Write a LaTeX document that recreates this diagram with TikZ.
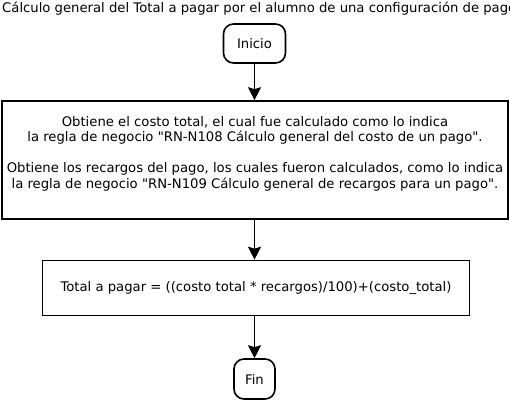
\documentclass[tikz,border=0pt]{standalone}
\usepackage{fontspec}
\setmainfont{DejaVu Sans}[Ligatures=TeXOff]
\usepackage{tikz}
\usetikzlibrary{positioning, arrows.meta}

\begin{document}
\begin{tikzpicture}[
  x=1pt, y=-1pt,
  >=Stealth,
  every node/.style={font=\fontsize{13.2}{15.5}\selectfont},
  terminal/.style={draw, line width=1.6pt, rounded corners=10pt, align=center, inner sep=0pt},
  proceso/.style={draw, line width=1.6pt, align=center, inner sep=0pt},
  flecha/.style={-{Stealth[length=13pt, width=13pt, inset=2pt]}, line width=1.6pt}
]
\useasboundingbox (0,0) rectangle (510,401);
\clip (0,0) rectangle (510,401);

% Titulo
\node[anchor=base west, inner sep=0pt] (titulo) at (2,12.5)
  {Cálculo general del Total a pagar por el alumno de una configuración de pago};

% Inicio
\node[terminal, minimum width=62pt, minimum height=39pt] (inicio) at (254.5,43.5) {Inicio};

% Obtiene costo y recargos
\node[proceso, minimum width=506pt, minimum height=118pt] (obtiene) at (255,160)
  {Obtiene el costo total, el cual fue calculado como lo indica\\
   la regla de negocio "RN-N108 Cálculo general del costo de un pago".\\[15.5pt]
   Obtiene los recargos del pago, los cuales fueron calculados, como lo indica\\
   la regla de negocio "RN-N109 Cálculo general de recargos para un pago".\\
   \mbox{}};

% Total a pagar
\node[proceso, minimum width=427pt, minimum height=55pt] (total) at (256,288)
  {Total a pagar = ((costo total * recargos)/100)+(costo\_total)};

% Fin
\node[terminal, minimum width=41pt, minimum height=40pt] (fin) at (254.5,379) {Fin};

% Flechas
\draw[flecha] (inicio) -- (inicio |- obtiene.north);
\draw[flecha] (inicio |- obtiene.south) -- (inicio |- total.north);
\draw[flecha] (inicio |- total.south) -- (fin);

\end{tikzpicture}
\end{document}
